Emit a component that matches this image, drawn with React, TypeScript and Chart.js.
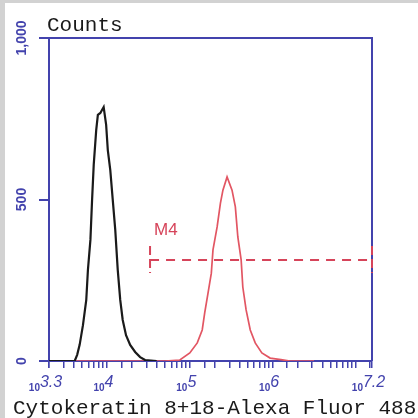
import React, { useEffect, useRef } from "react";
import { Chart, registerables } from "chart.js";

Chart.register(...registerables);

// log10 of fluorescence intensity, and counts
const blackLog = [3.3, 3.61, 3.64, 3.67, 3.71, 3.75, 3.77, 3.8, 3.82, 3.84, 3.87, 3.89, 3.92, 3.94, 3.96, 3.99, 4.01, 4.04, 4.07, 4.1, 4.13, 4.16, 4.19, 4.23, 4.28, 4.34, 4.4, 4.46, 4.6];
const blackCounts = [0, 0, 19, 50, 111, 189, 282, 375, 498, 607, 715, 762, 768, 777, 786, 731, 653, 591, 498, 406, 282, 189, 127, 80, 50, 28, 12, 3, 0];

const redLog = [3.3, 4.7, 4.88, 5.0, 5.09, 5.15, 5.18, 5.22, 5.26, 5.28, 5.33, 5.37, 5.4, 5.45, 5.51, 5.55, 5.58, 5.62, 5.64, 5.68, 5.73, 5.79, 5.87, 5.97, 6.1, 6.21, 6.5];
const redCounts = [0, 0, 3, 25, 56, 96, 149, 210, 272, 344, 415, 489, 529, 570, 529, 477, 384, 313, 229, 158, 96, 56, 25, 9, 4, 0, 0];

const m4Log = [4.52, 7.2];
const m4Level = 313;

const xMinExp = 3.3;
const xMaxExp = 7.2;
const xLabelExps = [3.3, 4, 5, 6, 7.2];
const xLabelTexts = ["3.3", "4", "5", "6", "7.2"];
const yTickValues = [0, 500, 1000];
const yTickLabels = ["0", "500", "1,000"];

const yTitle = "Counts";
const xTitle = "Cytokeratin 8+18-Alexa Fluor 488";
const markerLabel = "M4";

const BLUE = "#4343ad";
const RED = "#e25663";
const DASH_RED = "#d6445a";

const toPoints = (lx: number[], ly: number[]) => lx.map((e, i) => ({ x: Math.pow(10, e), y: ly[i] }));

const overlay = {
  id: "overlay",
  afterDraw(chart: any) {
    const { ctx, chartArea, scales } = chart;
    const { left, right, top, bottom } = chartArea;
    const x = scales.x;
    const y = scales.y;
    ctx.save();
    ctx.strokeStyle = BLUE;
    ctx.lineWidth = 2;
    ctx.beginPath();
    ctx.moveTo(left, top);
    ctx.lineTo(right, top);
    ctx.lineTo(right, bottom);
    ctx.stroke();

    ctx.fillStyle = BLUE;
    ctx.font = 'bold 14px "Liberation Sans"';
    yTickValues.forEach((v, i) => {
      const py = y.getPixelForValue(v);
      ctx.save();
      ctx.translate(22, py);
      ctx.rotate(-Math.PI / 2);
      ctx.textAlign = "center";
      ctx.textBaseline = "middle";
      ctx.fillText(yTickLabels[i], 0, 0);
      ctx.restore();
    });

    ctx.textAlign = "left";
    ctx.textBaseline = "alphabetic";
    xLabelExps.forEach((e, i) => {
      const px = x.getPixelForValue(Math.pow(10, e));
      ctx.font = 'bold 10px "Liberation Sans"';
      const w1 = ctx.measureText("10").width;
      ctx.font = 'italic 16px "Liberation Sans"';
      const w2 = ctx.measureText(xLabelTexts[i]).width;
      const start = px - 3.5 - (w1 + w2) / 2;
      ctx.font = 'bold 10px "Liberation Sans"';
      ctx.fillText("10", start, 391);
      ctx.font = 'italic 16px "Liberation Sans"';
      ctx.fillText(xLabelTexts[i], start + w1, 387);
    });

    const my = y.getPixelForValue(m4Level);
    const mx0 = x.getPixelForValue(Math.pow(10, m4Log[0]));
    const mx1 = x.getPixelForValue(Math.pow(10, m4Log[1]));
    ctx.strokeStyle = DASH_RED;
    ctx.lineWidth = 2;
    ctx.setLineDash([9, 4]);
    [mx0, mx1].forEach((mx) => {
      ctx.beginPath();
      ctx.moveTo(mx, my - 14);
      ctx.lineTo(mx, my + 13);
      ctx.stroke();
    });
    ctx.setLineDash([]);
    ctx.fillStyle = DASH_RED;
    ctx.font = '17px "Liberation Sans"';
    ctx.fillText(markerLabel, mx0 + 4, my - 25);

    ctx.fillStyle = "#1a1a1a";
    ctx.font = '21px "Liberation Mono"';
    ctx.fillText(yTitle, 47, 31);
    ctx.fillText(xTitle, 13, 414);
    ctx.restore();
  },
};

export default function App() {
  const ref = useRef<HTMLCanvasElement | null>(null);
  useEffect(() => {
    if (!ref.current) return;
    const chart = new Chart(ref.current, {
      type: "line",
      data: {
        datasets: [
          {
            data: toPoints(blackLog, blackCounts),
            borderColor: "#1a1a1a",
            borderWidth: 2.2,
            pointRadius: 0,
            fill: false,
          },
          {
            data: toPoints(redLog, redCounts),
            borderColor: RED,
            borderWidth: 1.7,
            pointRadius: 0,
            fill: false,
          },
          {
            data: toPoints(m4Log, [m4Level, m4Level]),
            borderColor: DASH_RED,
            borderWidth: 2,
            borderDash: [9, 7],
            pointRadius: 0,
            fill: false,
          },
        ],
      } as any,
      options: {
        animation: false,
        responsive: false,
        devicePixelRatio: 1,
        layout: { padding: { top: 38, right: 46, left: 0, bottom: 0 } },
        plugins: { legend: { display: false }, tooltip: { enabled: false } },
        scales: {
          x: {
            type: "logarithmic",
            min: Math.pow(10, xMinExp),
            max: Math.pow(10, xMaxExp),
            ticks: { display: false },
            grid: { display: true, drawOnChartArea: false, drawTicks: true, tickLength: 7, color: BLUE, lineWidth: 1.5 },
            border: { display: true, color: BLUE, width: 2 },
            afterFit: (s: any) => { s.height = 57; },
          },
          y: {
            type: "linear",
            min: 0,
            max: 1000,
            ticks: { display: false, stepSize: 500 },
            grid: { display: true, drawOnChartArea: false, drawTicks: true, tickLength: 10, color: BLUE, lineWidth: 2 },
            border: { display: true, color: BLUE, width: 2 },
            afterFit: (s: any) => { s.width = 49; },
          },
        },
      } as any,
      plugins: [overlay],
    });
    return () => chart.destroy();
  }, []);
  return (
    <div style={{ position: "fixed", left: 0, top: 0, width: 418, height: 418, background: "#fff", overflow: "hidden" }}>
      <canvas ref={ref} width={418} height={418} style={{ display: "block" }} />
      <div style={{ position: "absolute", left: 0, top: 0, width: 418, height: 3, background: "#d2d2d2" }} />
      <div style={{ position: "absolute", left: 0, top: 0, width: 5, height: 418, background: "#d2d2d2" }} />
    </div>
  );
}
